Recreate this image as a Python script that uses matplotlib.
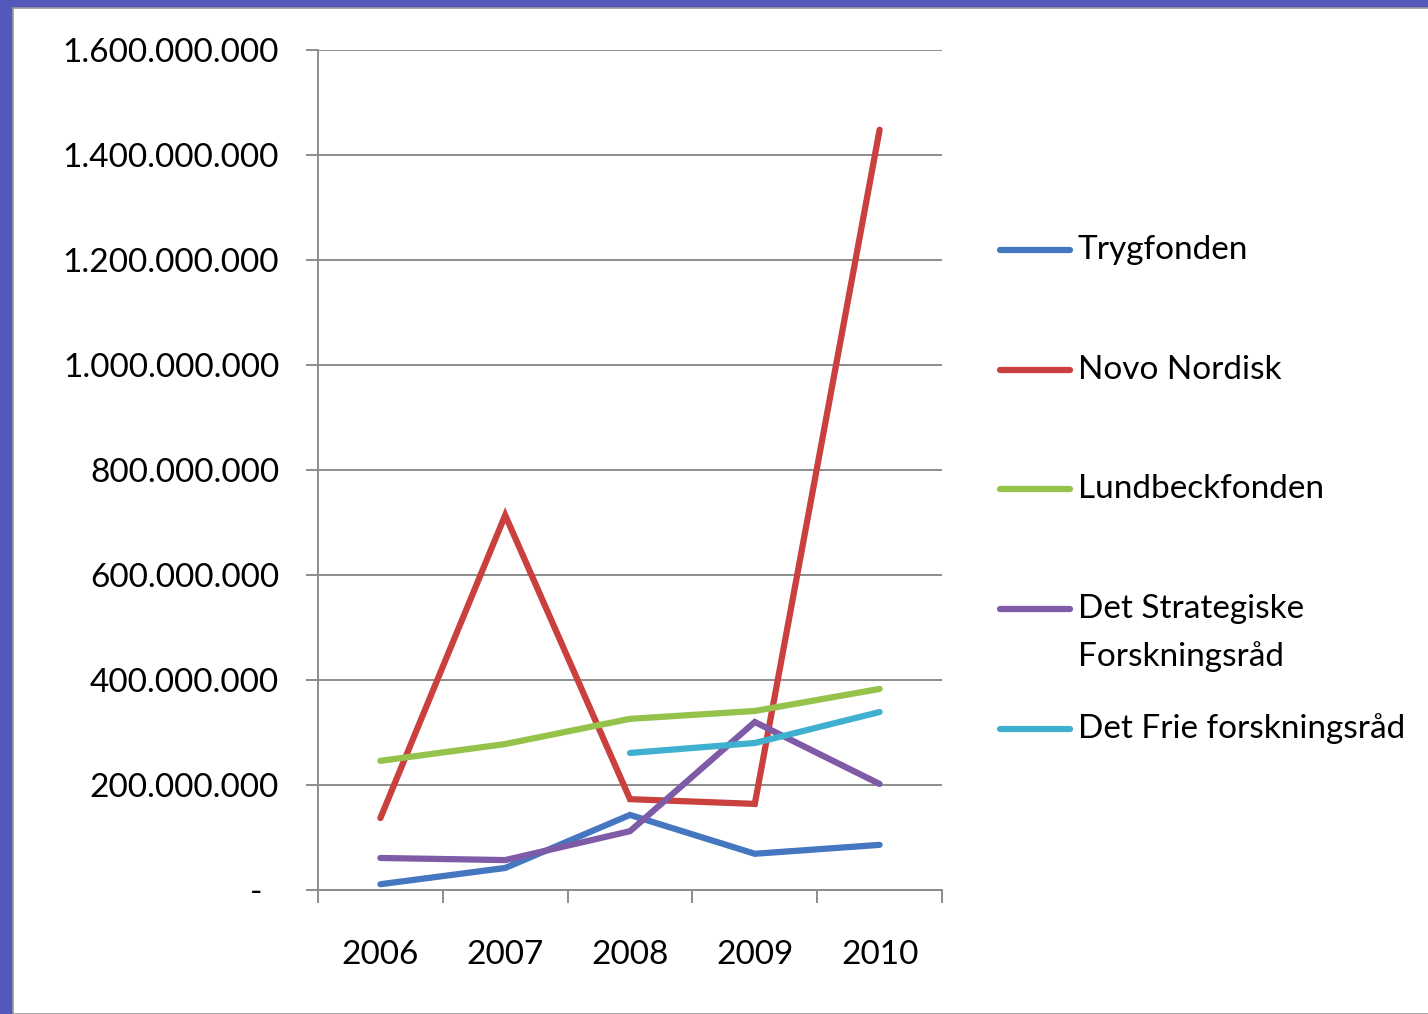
import matplotlib.pyplot as plt
import matplotlib.patches as mpatches
import matplotlib.lines as mlines
from matplotlib.ticker import FuncFormatter, FixedLocator
import numpy as np

plt.rcParams["font.family"] = ["Lato", "DejaVu Sans"]

# data
years = ["2006", "2007", "2008", "2009", "2010"]
trygfonden = [11e6, 42e6, 143e6, 69e6, 86e6]
novo_nordisk = [137e6, 714e6, 173e6, 164e6, 1448e6]
lundbeckfonden = [246e6, 278e6, 326e6, 341e6, 383e6]
strategiske = [61e6, 57e6, 112e6, 320e6, 202e6]
frie = [np.nan, np.nan, 261e6, 280e6, 339e6]

series_names = ["Trygfonden", "Novo Nordisk", "Lundbeckfonden",
                "Det Strategiske\nForskningsråd", "Det Frie forskningsråd"]
series_values = [trygfonden, novo_nordisk, lundbeckfonden, strategiske, frie]
colors = ["#4577C0", "#C9403E", "#94C24A", "#7E5BA6", "#3FB0CF"]

W, H = 1428, 1014
fig = plt.figure(figsize=(W / 100, H / 100), dpi=100)
fig.patch.set_facecolor("#5457BC")

# white slide panel
panel = mpatches.Rectangle((13 / W, 0), 1, (H - 8) / H, transform=fig.transFigure,
                           facecolor="white", edgecolor="#9a9a9a", linewidth=1.2, zorder=0)
fig.add_artist(panel)

ax = fig.add_axes([318 / W, 124 / H, 624 / W, 840 / H])
ax.set_facecolor("none")

x = np.arange(len(years))
for vals, name, c in zip(series_values, series_names, colors):
    ax.plot(x, vals, color=c, linewidth=4.5, solid_capstyle="round",
            solid_joinstyle="miter", label=name)

ax.set_xlim(-0.5, len(years) - 0.5)
ax.set_ylim(0, 1.6e9)
ax.set_yticks(np.arange(0, 1.6e9 + 1, 2e8))

def fmt(v, pos):
    if v == 0:
        return "-  "
    return "{:,.0f}".format(v).replace(",", ".")

ax.yaxis.set_major_formatter(FuncFormatter(fmt))
ax.grid(axis="y", color="#8c8c8c", linewidth=1.4)
ax.set_axisbelow(True)

ax.xaxis.set_major_locator(FixedLocator(x))
ax.set_xticklabels(years)
ax.xaxis.set_minor_locator(FixedLocator(np.arange(-0.5, len(years), 1.0)))
ax.tick_params(axis="x", which="major", length=0, pad=36, labelsize=24)
ax.tick_params(axis="x", which="minor", length=9, width=1.4, color="#8c8c8c", direction="out")
ax.tick_params(axis="y", length=9, width=1.4, color="#8c8c8c", direction="out",
               pad=19, labelsize=24)

for s in ["top", "right"]:
    ax.spines[s].set_visible(False)
for s in ["left", "bottom"]:
    ax.spines[s].set_color("#8c8c8c")
    ax.spines[s].set_linewidth(1.4)

# legend drawn by hand so the handle sits on the first text line
leg_y = [250, 370, 489, 609, 729]
for name, c, yy in zip(series_names, colors, leg_y):
    yf = 1 - yy / H
    fig.add_artist(mlines.Line2D([1000 / W, 1070 / W], [yf, yf], color=c,
                                 linewidth=4.5, solid_capstyle="round",
                                 transform=fig.transFigure))
    lines = name.split("\n")
    for i, t in enumerate(lines):
        fig.text(1078 / W, yf - i * 48 / H, t, fontsize=24, va="center", ha="left")

fig.savefig("out.png", dpi=100, facecolor=fig.get_facecolor())
